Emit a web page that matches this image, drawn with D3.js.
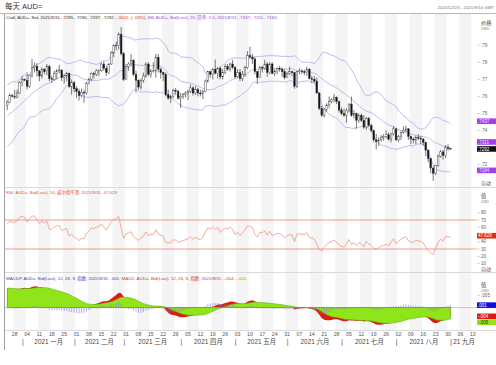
<!DOCTYPE html>
<html><head><meta charset="utf-8">
<script src="https://cdn.jsdelivr.net/npm/d3@7"></script>
<style>
body{margin:0;background:#fff}
svg{display:block}
text{font-family:"Liberation Sans","Noto Sans CJK SC",sans-serif}
</style>
</head><body><svg id="c" width="496" height="365"></svg>
<script>
// ---- warm-up closes (2020-10-01 .. 2020-12-22, weekdays) used only for indicators
const warmupClose = [
.7170,.7160,.7180,.7120,.7150,.7180,.7230,.7210,.7160,.7150,.7070,.7080,.7050,.7070,.7140,.7120,.7140,.7110,.7130,.7050,.7030,.7030,
.7043,.7114,.7149,.7255,.7273,.7253,.7274,.7256,.7254,.7273,.7314,.7300,.7282,.7295,.7303,.7277,.7349,.7374,.7363,.7390,.7348,
.7366,.7386,.7436,.7424,.7407,.7420,.7504,.7538,.7528,.7534,.7547,.7577,.7636,.7625,.7572,.7549];

// ---- visible daily candles from 2020-12-23 (weekdays)
const firstDay = "2020-12-23";
const lastAxisDay = "2021-09-14";
const open = [
.7549,.7566,.7605,
.7600,.7596,.7620,.7680,.7700,
.7695,.7660,.7725,.7770,.7778,
.7750,.7720,.7760,.7745,.7775,
.7705,.7700,.7735,.7750,.7755,
.7710,.7720,.7735,.7660,.7680,
.7645,.7630,.7605,.7625,.7620,
.7675,.7700,.7735,.7730,.7750,
.7750,.7790,.7765,.7740,.7790,
.7855,.7900,.7900,.7965,.7850,
.7700,.7775,.7790,.7810,.7730,
.7695,.7655,.7695,.7720,.7790,
.7730,.7750,.7750,.7830,.7760,
.7740,.7730,.7610,.7590,.7600,
.7635,.7630,.7590,.7600,.7610,
.7620,.7630,.7650,.7620,.7640,
.7620,.7615,.7630,.7690,.7745,
.7730,.7760,.7735,.7765,.7715,
.7740,.7775,.7760,.7790,.7770,
.7715,.7740,.7705,.7730,.7770,
.7840,.7830,.7820,.7745,.7710,
.7770,.7765,.7790,.7740,.7790,
.7735,.7745,.7765,.7760,.7745,
.7710,.7735,.7745,.7740,.7660,
.7745,.7750,.7745,.7740,.7760,
.7705,.7700,.7690,.7620,.7530,
.7490,.7525,.7550,.7570,.7580,
.7595,.7570,.7520,.7500,.7490,
.7515,.7555,.7490,.7500,.7460,
.7490,.7460,.7420,.7470,.7430,
.7400,.7345,.7335,.7345,.7360,
.7365,.7375,.7350,.7380,.7410,
.7345,.7365,.7390,.7400,.7410,
.7365,.7350,.7345,.7360,.7355,
.7350,.7330,.7285,.7235,.7180,
.7150,.7195,.7250,.7275,.7255,
.7300,.7295];
const high = [
.7580,.7619,.7615,
.7638,.7640,.7690,.7720,.7705,
.7742,.7730,.7820,.7800,.7795,
.7755,.7770,.7765,.7790,.7785,
.7720,.7750,.7760,.7785,.7760,
.7730,.7745,.7740,.7700,.7690,
.7660,.7645,.7645,.7640,.7685,
.7710,.7740,.7745,.7760,.7760,
.7800,.7805,.7780,.7795,.7865,
.7905,.7920,.7975,.8007,.7860,
.7790,.7800,.7849,.7820,.7750,
.7700,.7705,.7740,.7800,.7800,
.7760,.7800,.7850,.7849,.7770,
.7745,.7740,.7640,.7610,.7645,
.7650,.7640,.7620,.7620,.7630,
.7640,.7670,.7660,.7660,.7650,
.7640,.7640,.7700,.7750,.7750,
.7765,.7816,.7770,.7775,.7760,
.7790,.7790,.7800,.7815,.7780,
.7760,.7760,.7750,.7780,.7865,
.7891,.7850,.7830,.7750,.7780,
.7780,.7815,.7800,.7800,.7800,
.7760,.7770,.7780,.7770,.7760,
.7745,.7775,.7750,.7745,.7750,
.7765,.7760,.7755,.7775,.7765,
.7720,.7720,.7710,.7625,.7545,
.7530,.7560,.7600,.7590,.7615,
.7600,.7575,.7535,.7530,.7530,
.7560,.7599,.7520,.7505,.7500,
.7500,.7490,.7480,.7480,.7440,
.7405,.7380,.7360,.7375,.7380,
.7400,.7390,.7385,.7425,.7415,
.7375,.7395,.7425,.7428,.7415,
.7370,.7360,.7370,.7380,.7370,
.7355,.7335,.7290,.7240,.7190,
.7200,.7260,.7285,.7285,.7315,
.7320,.7296];
const low = [
.7520,.7560,.7595,
.7585,.7590,.7615,.7660,.7690,
.7640,.7650,.7710,.7740,.7715,
.7690,.7705,.7730,.7725,.7690,
.7680,.7690,.7700,.7735,.7690,
.7675,.7690,.7650,.7610,.7625,
.7590,.7575,.7595,.7563,.7610,
.7670,.7690,.7705,.7720,.7720,
.7745,.7750,.7720,.7730,.7785,
.7830,.7870,.7875,.7840,.7690,
.7700,.7750,.7780,.7720,.7622,
.7640,.7640,.7680,.7710,.7720,
.7710,.7740,.7710,.7740,.7705,
.7690,.7600,.7580,.7562,.7590,
.7610,.7580,.7532,.7585,.7595,
.7580,.7620,.7605,.7610,.7600,
.7600,.7585,.7625,.7680,.7710,
.7700,.7730,.7705,.7700,.7700,
.7730,.7750,.7745,.7760,.7705,
.7710,.7690,.7690,.7715,.7760,
.7820,.7790,.7730,.7675,.7705,
.7740,.7755,.7715,.7730,.7730,
.7720,.7730,.7745,.7715,.7700,
.7710,.7725,.7720,.7645,.7650,
.7730,.7730,.7725,.7720,.7700,
.7680,.7680,.7615,.7520,.7480,
.7477,.7510,.7530,.7560,.7565,
.7555,.7505,.7490,.7480,.7445,
.7505,.7480,.7470,.7410,.7445,
.7450,.7410,.7405,.7420,.7390,
.7330,.7289,.7310,.7335,.7340,
.7355,.7340,.7330,.7370,.7340,
.7335,.7345,.7380,.7390,.7345,
.7320,.7325,.7320,.7345,.7320,
.7310,.7250,.7215,.7150,.7106,
.7140,.7185,.7240,.7230,.7240,
.7280,.7287];
const close = [
.7566,.7605,.7600,
.7596,.7620,.7680,.7700,.7695,
.7660,.7725,.7770,.7778,.7750,
.7720,.7760,.7745,.7775,.7705,
.7700,.7735,.7750,.7755,.7710,
.7720,.7735,.7660,.7680,.7645,
.7630,.7605,.7625,.7620,.7675,
.7700,.7735,.7730,.7750,.7750,
.7790,.7765,.7740,.7790,.7855,
.7900,.7900,.7965,.7850,.7700,
.7775,.7790,.7810,.7730,.7695,
.7655,.7695,.7720,.7790,.7730,
.7750,.7750,.7830,.7760,.7740,
.7730,.7610,.7590,.7600,.7635,
.7630,.7590,.7600,.7610,.7620,
.7630,.7650,.7620,.7640,.7620,
.7615,.7630,.7690,.7745,.7730,
.7760,.7735,.7765,.7715,.7740,
.7775,.7760,.7790,.7770,.7715,
.7740,.7705,.7730,.7770,.7840,
.7830,.7820,.7745,.7710,.7770,
.7765,.7790,.7740,.7790,.7735,
.7745,.7765,.7760,.7745,.7710,
.7735,.7745,.7740,.7660,.7745,
.7750,.7745,.7740,.7760,.7705,
.7700,.7690,.7620,.7530,.7490,
.7525,.7550,.7570,.7580,.7595,
.7570,.7520,.7500,.7490,.7515,
.7555,.7490,.7500,.7460,.7490,
.7460,.7420,.7470,.7430,.7400,
.7345,.7335,.7345,.7360,.7365,
.7375,.7350,.7380,.7410,.7345,
.7365,.7390,.7400,.7410,.7365,
.7350,.7345,.7360,.7355,.7350,
.7330,.7285,.7235,.7180,.7150,
.7195,.7250,.7275,.7255,.7300,
.7295,.7292];

// last values shown in the reference's axis tags
const lastBB = [.7437,.7311,.7184];      // upper, middle, lower
const lastClose = [.7292];
const lastRSI = [47.629];
const lastMACD = [.001,-.004,-.005];     // histogram, MACD, signal

const priceTicks = [.72,.73,.74,.75,.76,.77,.78,.79];
const rsiTicks = [10,20,30,40,50,60,70,80];
const rsiLevels = [70,30];
const macdTicks = [.005];
const monthNames = ["一月","二月","三月","四月","五月","六月","七月","八月","九月"];
const bbPeriod = 20, bbMult = 2, rsiPeriod = 14, macdFast = 12, macdSlow = 26, macdSig = 9;

// ---------- helpers
const parse = d3.timeParse("%Y-%m-%d");
const allDays = d3.timeDay.range(parse(firstDay), d3.timeDay.offset(parse(lastAxisDay),1)).filter(d=>d.getDay()!==0&&d.getDay()!==6);
const data = close.map((c,i)=>({date:allDays[i],o:open[i],h:high[i],l:low[i],c}));
const allClose = warmupClose.concat(close);
const W0 = warmupClose.length;

const bb = data.map((d,i)=>{
  const k=W0+i; const s=allClose.slice(k-bbPeriod+1,k+1);
  const m=d3.mean(s); const sd=Math.sqrt(d3.mean(s,v=>(v-m)*(v-m)));
  return {date:d.date,mid:m,up:m+bbMult*sd,lo:m-bbMult*sd};
});
let ag=0,al=0; const rsiAll=[];
for(let k=1;k<allClose.length;k++){
  const ch=allClose[k]-allClose[k-1]; const g=Math.max(ch,0), l=Math.max(-ch,0);
  if(k<=rsiPeriod){ag+=g/rsiPeriod;al+=l/rsiPeriod;}
  else{ag=(ag*(rsiPeriod-1)+g)/rsiPeriod;al=(al*(rsiPeriod-1)+l)/rsiPeriod;}
  rsiAll[k]=100-100/(1+ag/al);
}
const rsi = data.map((d,i)=>({date:d.date,v:rsiAll[W0+i]}));
function ema(arr,n){const a=2/(n+1);const out=[];arr.forEach((v,i)=>out.push(i?a*v+(1-a)*out[i-1]:v));return out;}
const e1=ema(allClose,macdFast), e2=ema(allClose,macdSlow);
const macdAll=e1.map((v,i)=>v-e2[i]); const sigAll=ema(macdAll,macdSig);
const macd = data.map((d,i)=>({date:d.date,m:macdAll[W0+i],s:sigAll[W0+i],h:macdAll[W0+i]-sigAll[W0+i]}));

// ---------- layout
const svg=d3.select("#c");
const L=5, R=476.5;
const P={t:20,b:187}, RS={t:187,b:272}, M={t:272,b:330};
const x=d3.scaleBand().domain(allDays).range([L+1,R]).paddingInner(0.32).paddingOuter(0.16);
const cx=d=>x(d)+x.bandwidth()/2;
const y=d3.scaleLinear().domain([.7069,.8048]).range([P.b,P.t]);
const yr=d3.scaleLinear().domain([-1.7,115.5]).range([RS.b,RS.t]);
const ym=d3.scaleLinear().domain([-.0092,.0146]).range([M.b,M.t]);

// week stripes
const mondays=allDays.filter(d=>d.getDay()===1);
const weekStarts=[allDays[0]].concat(mondays);
const edge=(d,i)=>i===0?L:x(d)-x.step()*x.paddingInner()/2;
svg.append("g").selectAll("rect").data(weekStarts).join("rect")
  .attr("x",edge)
  .attr("width",(d,i)=>{const nx=weekStarts[i+1]; return (nx?edge(nx,i+1):R)-edge(d,i);})
  .attr("y",14).attr("height",316)
  .attr("fill",(d,i)=>i%2===0?"#ffffff":"#f4f4f4");

// frame lines
svg.append("line").attr("x1",0).attr("x2",496).attr("y1",13.5).attr("y2",13.5).attr("stroke","#b8b8b8");
svg.append("line").attr("x1",4.5).attr("x2",4.5).attr("y1",14).attr("y2",350).attr("stroke","#a0a0a0");
[P.b,RS.b,M.b].forEach(v=>svg.append("line").attr("x1",L).attr("x2",496).attr("y1",v+.5).attr("y2",v+.5).attr("stroke","#dadada"));

// titles
svg.append("text").attr("x",5).attr("y",9).attr("font-size",7.5).attr("fill","#333").text("每天 AUD=");
svg.append("text").attr("x",494).attr("y",9).attr("text-anchor","end").attr("font-size",4.4).attr("fill","#777").text("2020/12/23 - 2021/9/14 GMT");
const sub=svg.append("text").attr("x",6).attr("y",18.5).attr("font-size",4.4);
sub.append("tspan").attr("fill","#333").text("Cndl, AUD=, Bid, 2021/8/31, .7295, .7296, .7287, .7292, ");
sub.append("tspan").attr("fill","#e0301e").text("-.0002, (-.03%), ");
sub.append("tspan").attr("fill","#9a4de0").text("BB, AUD=, Bid(Last), 20, 简单, 2.0, 2021/8/31, .7437, .7311, .7184");

// BB lines
const bbCol="#c4a0ee";
["up","mid","lo"].forEach(k=>{
  svg.append("path").datum(bb).attr("fill","none").attr("stroke",bbCol).attr("stroke-width",0.8)
   .attr("d",d3.line().x(d=>cx(d.date)).y(d=>y(d[k])));
});
// candles
const cg=svg.append("g");
cg.selectAll("line").data(data).join("line")
  .attr("x1",d=>cx(d.date)).attr("x2",d=>cx(d.date)).attr("y1",d=>y(d.h)).attr("y2",d=>y(d.l))
  .attr("stroke","#222").attr("stroke-width",0.6);
cg.selectAll("rect").data(data).join("rect")
  .attr("x",d=>x(d.date)).attr("width",x.bandwidth())
  .attr("y",d=>y(Math.max(d.o,d.c))).attr("height",d=>Math.max(0.6,Math.abs(y(d.o)-y(d.c))))
  .attr("fill",d=>d.c>=d.o?"#fff":"#111").attr("stroke","#333").attr("stroke-width",0.4);

// RSI
svg.append("text").attr("x",6).attr("y",194).attr("font-size",4.4).attr("fill","#e0563c").text("RSI, AUD=, Bid(Last), 14, 威尔德平滑, 2021/8/31, 47.629");
rsiLevels.forEach(v=>svg.append("line").attr("x1",L).attr("x2",R).attr("y1",yr(v)).attr("y2",yr(v)).attr("stroke","#f0907e").attr("stroke-width",0.9));
svg.append("path").datum(rsi).attr("fill","none").attr("stroke","#ee8a70").attr("stroke-width",0.7)
  .attr("d",d3.line().x(d=>cx(d.date)).y(d=>yr(d.v)));

// MACD
svg.append("line").attr("x1",L).attr("x2",496).attr("y1",ym(0)).attr("y2",ym(0)).attr("stroke","#f0a898").attr("stroke-width",0.8);
svg.append("path").datum(macd).attr("fill","#e01a10").attr("d",d3.area().x(d=>cx(d.date)).y0(ym(0)).y1(d=>ym(d.m)));
svg.append("path").datum(macd).attr("fill","#8fe41a").attr("stroke","#5da010").attr("stroke-width",0.5)
  .attr("d",d3.area().x(d=>cx(d.date)).y0(ym(0)).y1(d=>ym(d.s)));
svg.append("g").selectAll("line").data(macd).join("line")
  .attr("x1",d=>cx(d.date)).attr("x2",d=>cx(d.date)).attr("y1",ym(0)).attr("y2",d=>ym(d.h))
  .attr("stroke","#7a78d8").attr("stroke-width",0.6);
const mt=svg.append("text").attr("x",6).attr("y",280).attr("font-size",4.4);
mt.append("tspan").attr("fill","#3a3ad0").text("MACDP, AUD=, Bid(Last), 12, 26, 9, 指数, 2021/8/31, .001, ");
mt.append("tspan").attr("fill","#e0301e").text("MACD, AUD=, Bid(Last), 12, 26, 9, 指数, 2021/8/31, -.004, ");
mt.append("tspan").attr("fill","#70c020").text("-.005");

// right axes: value tags first (so hidden ticks can be skipped)
const ax=svg.append("g").attr("font-size",4.6).attr("fill","#666");
const fmtN=(v,d)=>(v<0?"-":"")+Math.abs(v).toFixed(d).replace(/^0(?=\.)/,"");
const tags=[];
function box(yc,txt,bg,fg){
  tags.push(yc);
  ax.append("rect").attr("x",477).attr("y",yc-2.8).attr("width",19).attr("height",5.6).attr("fill",bg);
  ax.append("text").attr("x",478).attr("y",yc+1.6).attr("font-size",4.5).attr("fill",fg).text(txt);
}
const yClose=y(lastClose[0]);
box(y(lastBB[0])-3,fmtN(lastBB[0],4),"#a040e8","#f0e0ff");
box(Math.min(y(lastBB[1]),yClose-7),fmtN(lastBB[1],4),"#a040e8","#f0e0ff");
box(y(lastBB[2])+3,fmtN(lastBB[2],4),"#a040e8","#f0e0ff");
box(yClose,fmtN(lastClose[0],4),"#111","#fff");
box(yr(lastRSI[0])-0.5,lastRSI[0].toFixed(3),"#e03018","#fff");
box(ym(lastMACD[0]),fmtN(lastMACD[0],3),"#1010d8","#fff");
box(ym(lastMACD[1])-1,fmtN(lastMACD[1],3),"#e01a10","#fff");
box(ym(lastMACD[1])+5,fmtN(lastMACD[2],3),"#8fe41a","#333");

function header(y0,a,b){ax.append("text").attr("x",481).attr("y",y0).attr("font-size",5.2).attr("fill","#444").text(a);
  ax.append("text").attr("x",481).attr("y",y0+5).attr("font-size",3.8).attr("fill","#777").text(b);}
header(25,"价格","USD"); header(198,"值","USD"); header(287,"值","USD");
function ticks(arr,sc,fmt){arr.forEach(v=>{
  const yy=sc(v);
  ax.append("line").attr("x1",477.5).attr("x2",479.5).attr("y1",yy).attr("y2",yy).attr("stroke","#888").attr("stroke-width",0.5);
  if(tags.some(t=>Math.abs(t-yy)<4.6)) return;   // hidden behind a value tag
  ax.append("text").attr("x",481).attr("y",yy+1.6).text(fmt(v));});}
ticks(priceTicks,y,v=>fmtN(v,2));
ticks(rsiTicks,yr,v=>String(v));
ticks(macdTicks,ym,v=>fmtN(v,3));
[185,270.5].forEach(v=>ax.append("text").attr("x",481).attr("y",v).attr("font-size",5).attr("fill","#555").text("自动"));

// bottom date axis
const ag2=svg.append("g").attr("fill","#555");
ag2.selectAll("text").data(mondays).join("text").attr("x",d=>cx(d)).attr("y",336).attr("text-anchor","middle")
  .attr("font-size",5.2).text(d3.timeFormat("%d"));
const monthStarts=allDays.filter((d,i)=>i>0&&d.getMonth()!==allDays[i-1].getMonth());
monthStarts.forEach((d,i)=>{
  const xs=x(d)-1;
  ag2.append("text").attr("x",xs).attr("y",344).attr("font-size",6.4).attr("fill","#444").attr("text-anchor","middle").text("|");
  const nx=monthStarts[i+1];
  if(nx){ag2.append("text").attr("x",(xs+x(nx)-1)/2).attr("y",344).attr("font-size",6.4).attr("fill","#444").attr("text-anchor","middle").text("2021 "+monthNames[d.getMonth()]);}
  else{ag2.append("text").attr("x",xs+2).attr("y",344).attr("font-size",6.4).attr("fill","#444").text("21 "+monthNames[d.getMonth()]);}
});
</script>
</body></html>
